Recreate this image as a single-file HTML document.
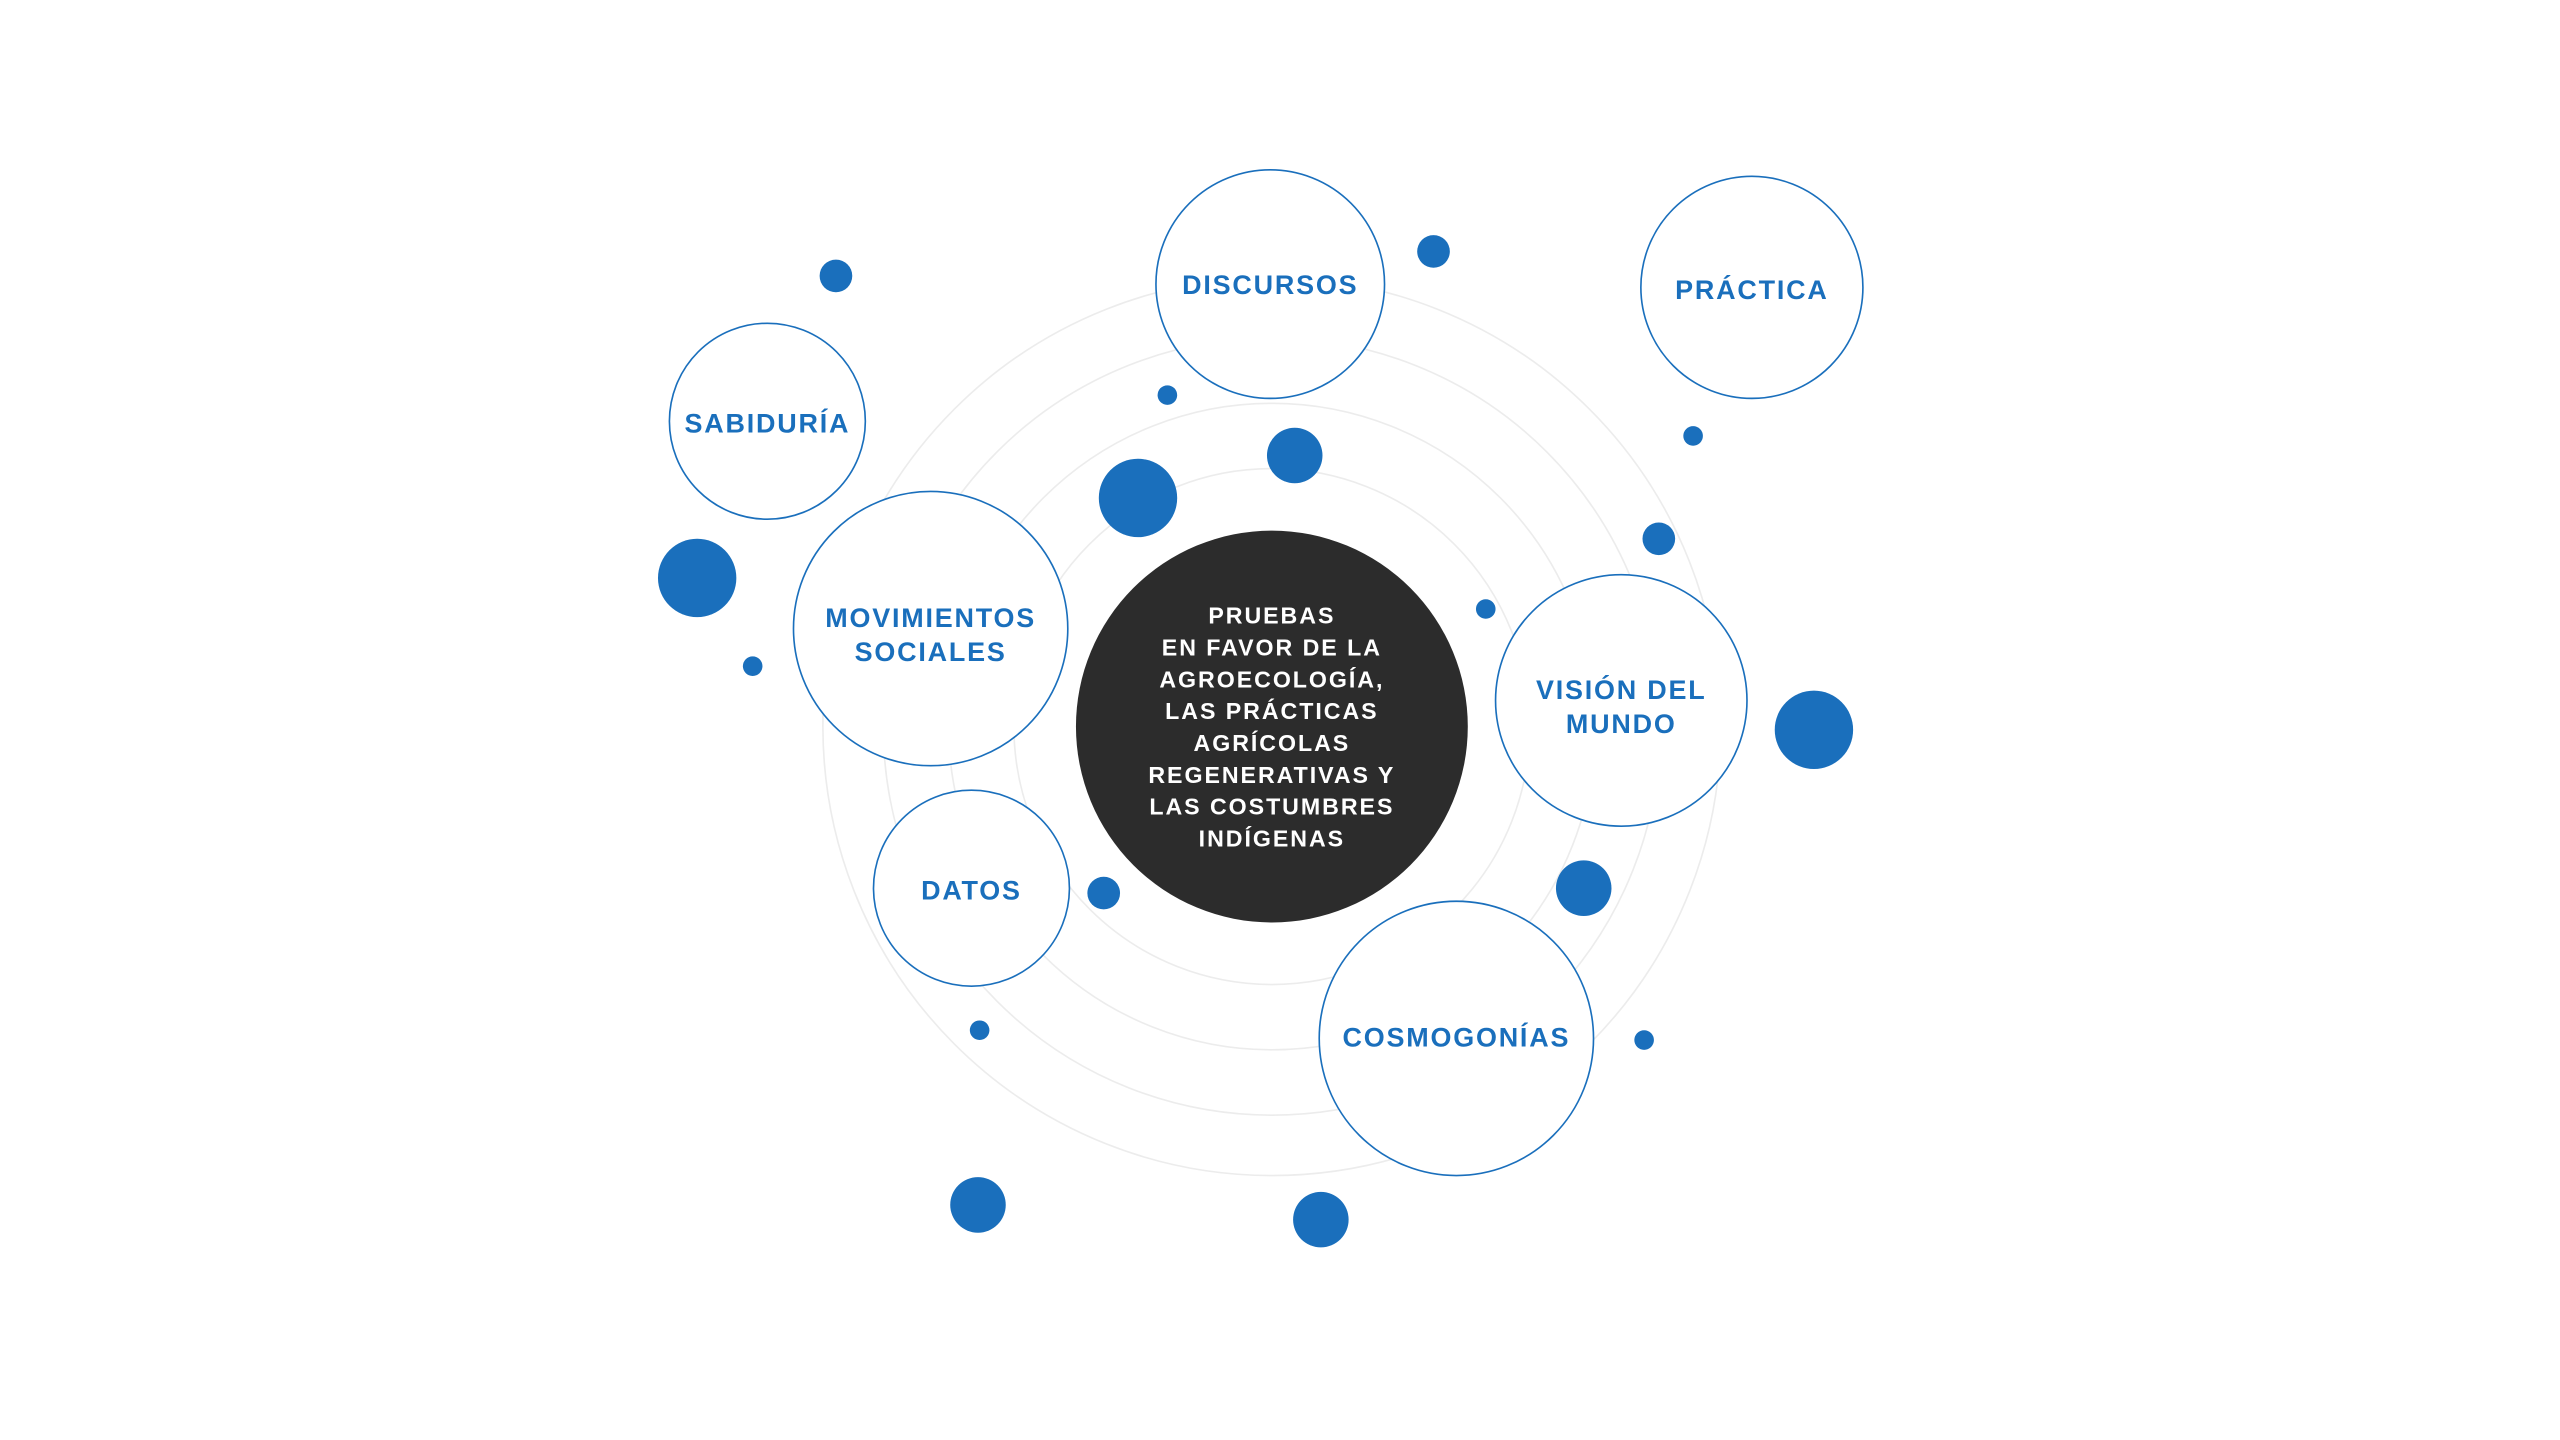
<!DOCTYPE html>
<html><head><meta charset="utf-8"><style>
html,body{margin:0;padding:0;background:#fff;width:2560px;height:1440px;overflow:hidden}
svg{display:block}
text{font-family:"Liberation Sans",Arial,sans-serif;font-weight:bold;text-anchor:middle}
</style></head><body>
<svg width="2560" height="1440" viewBox="0 0 2560 1440" xmlns="http://www.w3.org/2000/svg">
<g transform="scale(1.6327)">
<g fill="none" stroke="#ececec" stroke-width="1">
<circle cx="779" cy="445" r="158"/>
<circle cx="779" cy="445" r="198"/>
<circle cx="779" cy="445" r="238"/>
<circle cx="779" cy="445" r="275"/>
</g>
<g fill="#fff" stroke="#1a6fbc" stroke-width="1">
<circle cx="778" cy="174" r="70"/>
<circle cx="1073" cy="176" r="68"/>
<circle cx="470" cy="258" r="60"/>
<circle cx="570" cy="385" r="84"/>
<circle cx="993" cy="429" r="77"/>
<circle cx="595" cy="544" r="60"/>
<circle cx="892" cy="636" r="84"/>
</g>
<circle cx="779" cy="445" r="120" fill="#2c2c2c"/>
<g fill="#1a6fbc">
<circle cx="512" cy="169" r="10"/>
<circle cx="878" cy="154" r="10"/>
<circle cx="715" cy="242" r="6"/>
<circle cx="793" cy="279" r="17"/>
<circle cx="697" cy="305" r="24"/>
<circle cx="1037" cy="267" r="6"/>
<circle cx="1016" cy="330" r="10"/>
<circle cx="427" cy="354" r="24"/>
<circle cx="461" cy="408" r="6"/>
<circle cx="910" cy="373" r="6"/>
<circle cx="1111" cy="447" r="24"/>
<circle cx="970" cy="544" r="17"/>
<circle cx="676" cy="547" r="10"/>
<circle cx="600" cy="631" r="6"/>
<circle cx="1007" cy="637" r="6"/>
<circle cx="599" cy="738" r="17"/>
<circle cx="809" cy="747" r="17"/>
</g>
<g fill="#1a6fbc" font-size="16.5" letter-spacing="1.1">
<text x="778" y="180">DISCURSOS</text>
<text x="1073" y="183">PRÁCTICA</text>
<text x="470" y="265">SABIDURÍA</text>
<text x="570" y="384">MOVIMIENTOS</text>
<text x="570" y="405">SOCIALES</text>
<text x="993" y="428">VISIÓN DEL</text>
<text x="993" y="449">MUNDO</text>
<text x="595" y="551">DATOS</text>
<text x="892" y="641">COSMOGONÍAS</text>
</g>
<g fill="#fff" font-size="14.2" letter-spacing="1.2">
<text x="779" y="382">PRUEBAS</text>
<text x="779" y="401.5">EN FAVOR DE LA</text>
<text x="779" y="421">AGROECOLOGÍA,</text>
<text x="779" y="440.5">LAS PRÁCTICAS</text>
<text x="779" y="460">AGRÍCOLAS</text>
<text x="779" y="479.5">REGENERATIVAS Y</text>
<text x="779" y="499">LAS COSTUMBRES</text>
<text x="779" y="518.5">INDÍGENAS</text>
</g>
</g>
</svg>
</body></html>
